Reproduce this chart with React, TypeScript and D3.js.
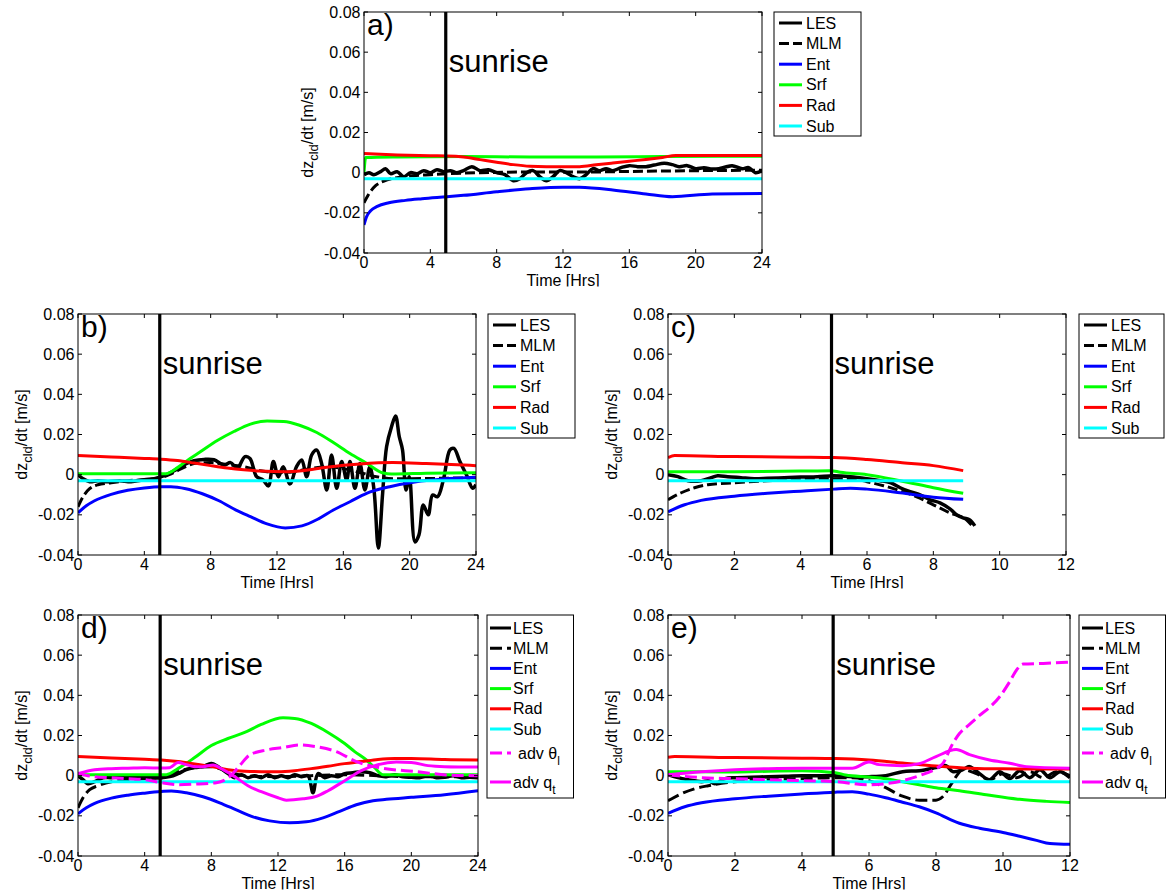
import React from 'react';
import * as d3 from 'd3';

type Pt = [number, number];

// ---------- shared axis settings ----------
const Y_MIN = -0.04;
const Y_MAX = 0.08;
const yTickValues = [-0.04, -0.02, 0, 0.02, 0.04, 0.06, 0.08];
const xTicksDay = [0, 4, 8, 12, 16, 20, 24];
const xTicksHalf = [0, 2, 4, 6, 8, 10, 12];
const SUNRISE_HR = 4.93;

// ---------- a) ----------
const aLES: Pt[] = [[0,-0.001],[0.3,0.0],[0.6,-0.001],[1.0,0.0005],[1.3,0.002],[1.6,-0.0005],[2.0,0.0005],[2.4,-0.002],[2.8,0.0],[3.2,-0.0005],[3.6,0.001],[4.0,0.0],[4.4,0.0015],[4.8,0.0005],[5.2,0.001],[5.6,0.0],[6.0,0.001],[6.5,0.003],[7.0,0.001],[7.5,0.0015],[8.0,0.0],[8.5,-0.001],[9.0,-0.004],[9.4,-0.003],[9.8,0.0],[10.2,0.001],[10.6,-0.002],[11.0,-0.004],[11.4,-0.002],[11.8,0.001],[12.2,0.0],[12.6,-0.002],[13.0,-0.003],[13.4,-0.001],[13.8,0.002],[14.2,0.001],[14.6,0.002],[15.0,0.001],[15.5,0.0025],[16.0,0.0035],[16.5,0.003],[17.0,0.003],[17.5,0.0038],[18.1,0.0047],[18.6,0.004],[19.0,0.003],[19.5,0.0035],[20.0,0.002],[20.5,0.0025],[21.0,0.0018],[21.4,0.002],[21.8,0.0028],[22.2,0.0035],[22.8,0.002],[23.2,0.0025],[23.6,0.0],[24.0,0.001]];
const aMLM: Pt[] = [[0,-0.015],[0.3,-0.0105],[0.7,-0.0065],[1.2,-0.0042],[2,-0.0025],[3,-0.0015],[4,-0.001],[5,-0.0005],[7,0.0],[10,0.0003],[13,0.0003],[16,0.0006],[20,0.001],[24,0.0012]];
const aENT: Pt[] = [[0,-0.026],[0.15,-0.022],[0.4,-0.019],[0.8,-0.0168],[1.5,-0.015],[2.5,-0.0138],[3.5,-0.013],[5,-0.012],[6,-0.0113],[8,-0.0095],[10,-0.008],[12,-0.0072],[13,-0.0073],[15,-0.0086],[17,-0.0106],[18.6,-0.012],[21,-0.0106],[24,-0.0104]];
const aSRF: Pt[] = [[0,0.0],[0.1,0.0075],[2,0.0078],[6,0.008],[10,0.0078],[14,0.0078],[18,0.008],[24,0.0082]];
const aRAD: Pt[] = [[0,0.0095],[2,0.0088],[4,0.0084],[5,0.0083],[6,0.0078],[7,0.0065],[8,0.0052],[9,0.004],[10,0.0032],[11,0.003],[12,0.003],[13,0.003],[14,0.0039],[15,0.0048],[16,0.0057],[17,0.0066],[18,0.0076],[18.8,0.0085],[24,0.0085]];
const aSUB: Pt[] = [[0,-0.003],[24,-0.003]];

// ---------- b) ----------
const bLES: Pt[] = [[0,0.0],[0.3,-0.002],[0.7,-0.0035],[1.2,-0.003],[1.8,-0.0035],[2.5,-0.003],[3.2,-0.0035],[4.0,-0.0025],[4.6,-0.002],[5.2,-0.0005],[5.8,0.002],[6.4,0.005],[7.0,0.007],[7.6,0.0076],[8.2,0.0074],[8.8,0.0048],[9.2,0.006],[9.6,0.0032],[10.07,0.009],[10.37,0.0081],[10.77,-0.001],[11.17,-0.0027],[11.48,-0.0056],[11.78,0.0065],[12.08,-0.001],[12.38,0.004],[12.78,-0.0046],[13.18,0.004],[13.49,0.0073],[13.79,-0.001],[14.09,0.0098],[14.39,0.0123],[14.69,0.0056],[15.0,-0.0076],[15.29,0.0098],[15.6,-0.0068],[15.9,0.0065],[16.2,-0.0027],[16.4,0.0065],[16.7,-0.0068],[17.0,0.0056],[17.3,-0.0076],[17.6,0.004],[17.85,-0.0076],[18.11,-0.0365],[18.37,-0.0093],[18.61,0.014],[18.91,0.024],[19.15,0.0292],[19.37,0.019],[19.57,0.0123],[19.78,-0.0076],[19.98,-0.001],[20.32,-0.0335],[20.56,-0.030],[20.82,-0.0151],[21.12,-0.020],[21.38,-0.0101],[21.68,-0.011],[22.03,-0.0027],[22.43,0.0123],[22.67,0.0131],[23.03,0.0065],[23.43,-0.0002],[23.8,-0.0068],[24.0,-0.005]];
const bMLM: Pt[] = [[0,-0.016],[0.3,-0.011],[0.7,-0.007],[1.2,-0.005],[2,-0.004],[3,-0.003],[4,-0.0025],[5,-0.0015],[5.5,0.0],[6,0.002],[6.5,0.004],[7,0.0055],[8,0.006],[9,0.005],[10,0.004],[11,0.002],[12,0.001],[13,0.0015],[14,0.003],[15,0.004],[16,0.003],[17,0.001],[18,-0.001],[19,-0.002],[20,-0.002],[22,-0.0018],[24,-0.0015]];
const bENT: Pt[] = [[0,-0.019],[0.5,-0.0155],[1,-0.013],[2,-0.0098],[3,-0.0078],[4,-0.0066],[5,-0.006],[5.6,-0.006],[6.5,-0.007],[7.5,-0.0095],[8.5,-0.013],[9.5,-0.0175],[10.4,-0.0209],[11.4,-0.0245],[12.5,-0.0265],[13.5,-0.0255],[14.5,-0.022],[15.4,-0.0176],[16.4,-0.0135],[17.4,-0.0093],[18.8,-0.006],[20.4,-0.0035],[22,-0.0022],[24,-0.0013]];
const bSRF: Pt[] = [[0,0.0005],[5.3,0.0005],[6,0.0035],[6.5,0.0065],[7.4,0.0115],[8.4,0.017],[9.4,0.0215],[10.4,0.0252],[11.4,0.0267],[12.4,0.0265],[13.4,0.0245],[14.4,0.021],[15.4,0.016],[16.4,0.0105],[17.4,0.0057],[18.4,0.0008],[18.9,0.0003],[21,0.0007],[24,0.001]];
const bRAD: Pt[] = [[0,0.0095],[2,0.0088],[4,0.0081],[5,0.0077],[6,0.007],[7,0.0058],[8,0.0045],[9,0.0033],[10,0.0024],[11,0.0018],[12.5,0.0015],[13.5,0.002],[15,0.0037],[17,0.0053],[19,0.006],[21,0.0055],[24,0.0045]];
const bSUB: Pt[] = [[0,-0.003],[24,-0.003]];

// ---------- c) ----------
const cLES: Pt[] = [[0,0.0],[0.3,-0.001],[0.6,-0.003],[1.0,-0.003],[1.3,-0.0015],[1.5,-0.0005],[1.8,-0.001],[2.2,-0.0015],[2.6,-0.002],[3.0,-0.0018],[3.5,-0.0015],[4.0,-0.0012],[4.5,-0.001],[5.0,-0.0005],[5.5,-0.001],[6.0,-0.002],[6.4,-0.003],[6.7,-0.004],[7.0,-0.0065],[7.3,-0.0085],[7.6,-0.01],[7.9,-0.0125],[8.2,-0.014],[8.5,-0.017],[8.7,-0.02],[8.9,-0.0215],[9.1,-0.0225],[9.25,-0.0255]];
const cMLM: Pt[] = [[0,-0.0125],[0.4,-0.009],[0.8,-0.0065],[1.2,-0.005],[2,-0.004],[3,-0.003],[4,-0.0025],[5,-0.002],[5.5,-0.002],[6,-0.0035],[6.5,-0.0055],[7,-0.008],[7.5,-0.011],[8,-0.015],[8.5,-0.019],[9,-0.0225],[9.15,-0.025]];
const cENT: Pt[] = [[0,-0.0185],[0.5,-0.015],[1,-0.0128],[2,-0.0107],[3,-0.0093],[4,-0.0082],[5,-0.0072],[5.5,-0.0068],[6,-0.0072],[7,-0.009],[8,-0.0112],[8.9,-0.0123]];
const cSRF: Pt[] = [[0,0.0015],[2,0.0015],[4,0.0018],[4.9,0.002],[5.2,0.0012],[6,0.0],[7,-0.003],[8,-0.0065],[8.9,-0.0093]];
const cRAD: Pt[] = [[0,0.0085],[0.2,0.0095],[2,0.009],[4,0.0087],[5,0.0085],[6,0.0075],[7,0.006],[8,0.0045],[8.9,0.002]];
const cSUB: Pt[] = [[0,-0.003],[8.9,-0.003]];

// ---------- d) ----------
const dLES: Pt[] = [[0,0.0],[0.3,-0.002],[0.6,-0.004],[1.0,-0.003],[1.5,-0.001],[2,-0.001],[2.5,-0.0005],[3,-0.001],[3.5,-0.0005],[4,-0.001],[4.5,-0.0005],[5,-0.001],[5.5,-0.0005],[6,0.001],[6.5,0.003],[7,0.004],[7.5,0.0045],[8,0.006],[8.5,0.004],[9,0.001],[9.4,-0.001],[9.8,0.0005],[10.2,-0.001],[10.6,0.0],[11,-0.001],[11.4,0.0005],[11.8,-0.001],[12.2,0.0],[12.6,-0.001],[13,0.0005],[13.4,-0.0005],[13.8,0.0],[14.1,-0.0085],[14.4,0.001],[14.8,-0.001],[15.2,0.0],[15.6,-0.0005],[16,0.001],[16.5,0.0015],[17,0.002],[17.5,0.0015],[18,0.0],[18.5,-0.0005],[19,0.0005],[19.5,-0.0005],[20,-0.0008],[20.5,-0.001],[21,0.0],[21.5,-0.001],[22,-0.0008],[22.5,0.0],[23,-0.001],[23.5,-0.0008],[24,-0.001]];
const dMLM: Pt[] = [[0,-0.016],[0.3,-0.011],[0.7,-0.007],[1.2,-0.005],[2,-0.003],[3,-0.002],[4,-0.0015],[5,-0.001],[5.5,0.0],[6,0.002],[7,0.004],[8,0.0045],[9,0.002],[10,0.0],[12,-0.0005],[14,0.0],[16,0.0005],[18,0.0],[20,-0.0005],[22,-0.0005],[24,-0.0005]];
const dENT: Pt[] = [[0,-0.019],[0.5,-0.016],[1,-0.0138],[2,-0.0112],[3,-0.0097],[4,-0.0087],[5,-0.0079],[5.6,-0.0076],[6.5,-0.0085],[7.5,-0.0105],[8.5,-0.0135],[9.5,-0.017],[10.5,-0.0205],[11.5,-0.0225],[12.7,-0.0235],[13.7,-0.023],[14.7,-0.021],[15.7,-0.0178],[16.7,-0.0145],[17.7,-0.0125],[18.5,-0.0118],[20,-0.0108],[22,-0.0095],[24,-0.0075]];
const dSRF: Pt[] = [[0,0.0005],[5.3,0.0005],[6,0.0035],[7,0.009],[8,0.015],[9,0.0185],[10,0.0215],[11,0.0255],[12.3,0.0288],[13,0.0285],[14,0.026],[15,0.0215],[16,0.016],[16.6,0.012],[17.3,0.0078],[17.8,0.004],[18.3,0.0005],[20,0.0005],[24,0.0005]];
const dRAD: Pt[] = [[0,0.0095],[2,0.0088],[4,0.0082],[5,0.0078],[6,0.007],[7,0.0058],[8,0.0045],[9,0.003],[10,0.0022],[11,0.002],[12,0.002],[13,0.0025],[14,0.0035],[15,0.0047],[16,0.006],[17,0.007],[18,0.0081],[19,0.0086],[20,0.0086],[22,0.008],[24,0.0078]];
const dSUB: Pt[] = [[0,-0.003],[24,-0.003]];
const dADVT: Pt[] = [[0,0.001],[1,-0.0005],[2,-0.001],[3,-0.0015],[4,-0.002],[5,-0.0035],[6,-0.0045],[7,-0.0042],[8.3,-0.0035],[9.1,-0.0005],[9.7,0.005],[10.3,0.0103],[11.3,0.0128],[12.3,0.014],[13.3,0.0153],[14.3,0.0144],[15.5,0.012],[16.7,0.007],[17.5,0.005],[18.3,0.0037],[20.3,0.002],[22.3,0.0003],[24,0.0]];
const dADVQ: Pt[] = [[0,0.001],[1,0.003],[2,0.0035],[3,0.0037],[4,0.0039],[5,0.0038],[5.5,0.004],[6,0.0065],[6.5,0.0055],[7,0.0045],[7.5,0.0045],[8.1,0.0053],[8.7,0.003],[9.5,-0.001],[10.2,-0.005],[11,-0.008],[12,-0.011],[12.5,-0.0122],[13.5,-0.0115],[14.3,-0.0103],[15,-0.0075],[16,-0.0025],[17,0.0025],[18,0.0055],[19.1,0.0068],[20,0.0066],[21,0.005],[22,0.0045],[24,0.0043]];

// ---------- e) ----------
const eLES: Pt[] = [[0,0.0005],[0.3,-0.001],[0.6,-0.002],[1.0,-0.003],[1.2,-0.0025],[1.4,-0.004],[1.7,-0.0015],[2,-0.001],[2.5,-0.0008],[3,-0.0005],[3.5,-0.0003],[4,0.0],[4.5,0.0],[5,0.0],[5.5,-0.0005],[6,-0.0005],[6.5,0.0],[7,0.002],[7.5,0.0025],[8,0.004],[8.3,0.005],[8.5,0.002],[8.8,0.003],[9.0,0.0045],[9.3,0.001],[9.6,-0.002],[9.9,0.002],[10.2,-0.0015],[10.5,0.0025],[10.8,-0.001],[11.1,0.003],[11.4,-0.001],[11.7,0.002],[12,-0.001]];
const eMLM: Pt[] = [[0,-0.0125],[0.4,-0.009],[0.8,-0.0065],[1.2,-0.005],[2,-0.003],[3,-0.002],[4,-0.0015],[5,-0.001],[5.5,-0.001],[6,-0.0025],[6.5,-0.006],[7,-0.0102],[7.5,-0.0122],[8,-0.0122],[8.2,-0.0105],[8.5,-0.003],[8.8,0.003],[9.2,0.001],[9.6,-0.002],[10,0.001],[10.4,-0.001],[10.8,0.002],[11.2,-0.001],[11.6,0.002],[12,0.0]];
const eENT: Pt[] = [[0,-0.0188],[0.5,-0.0155],[1,-0.0135],[2,-0.0115],[3,-0.0102],[4,-0.0091],[5,-0.0082],[5.5,-0.008],[6,-0.0092],[6.5,-0.011],[7,-0.0132],[7.5,-0.0155],[8,-0.0185],[8.7,-0.0237],[9.3,-0.0262],[10,-0.0283],[10.5,-0.0302],[11,-0.0322],[11.4,-0.0338],[12,-0.0342]];
const eSRF: Pt[] = [[0,0.002],[1,0.0019],[2,0.0018],[3,0.0022],[4,0.0024],[5,0.0015],[5.3,0.0003],[6,-0.0007],[6.5,-0.0015],[7,-0.003],[7.5,-0.0045],[8,-0.006],[8.7,-0.0075],[9.5,-0.0095],[10.5,-0.0118],[11.3,-0.0128],[12,-0.0134]];
const eRAD: Pt[] = [[0,0.0092],[0.2,0.0095],[2,0.009],[4,0.0087],[5,0.0085],[6,0.0078],[7,0.0063],[8,0.0048],[9,0.0037],[10,0.0034],[12,0.0033]];
const eSUB: Pt[] = [[0,-0.003],[12,-0.003]];
const eADVT: Pt[] = [[0,0.0005],[1,-0.001],[2,-0.0015],[3,-0.002],[4,-0.0025],[5,-0.003],[6,-0.0046],[6.5,-0.004],[7,-0.0025],[7.5,0.0],[8,0.0035],[8.2,0.006],[8.5,0.016],[8.7,0.021],[9.0,0.0255],[9.3,0.03],[9.6,0.034],[9.9,0.0393],[10.2,0.0468],[10.4,0.0525],[10.6,0.0556],[11.2,0.0559],[12,0.0565]];
const eADVQ: Pt[] = [[0,0.0005],[1,0.002],[2,0.003],[3,0.0035],[4,0.0037],[5,0.0037],[5.5,0.0037],[6,0.0068],[6.3,0.0055],[7,0.005],[7.5,0.006],[8,0.0095],[8.6,0.013],[9.0,0.0105],[9.6,0.0078],[10.2,0.0062],[10.7,0.0045],[12,0.0037]];

// ---------- styling ----------
const FONT = '"Liberation Sans", Arial, Helvetica, sans-serif';
const COLORS: Record<string, string> = {
  LES: '#000000', MLM: '#000000', Ent: '#0000ff', Srf: '#00ff00',
  Rad: '#ff0000', Sub: '#00ffff', advT: '#ff00ff', advQ: '#ff00ff',
};

type Series = {
  key: string;
  data: Pt[];
  dashed?: boolean;
  wiggly?: boolean;
};

type PanelProps = {
  id: string;
  tag: string;
  left: number;
  top: number;
  width: number;
  height: number;
  xMax: number;
  xTicks: number[];
  series: Series[];
  legendLeft: number;
  legendWidth: number;
  longLegend: boolean;
};

const W = 1168;
const H = 894;

function fmtY(v: number) {
  return Math.abs(v) < 1e-9 ? '0' : v.toFixed(2);
}

function LegendLabel({ k, x, y }: { k: string; x: number; y: number }) {
  if (k === 'advT') {
    return (
      <text x={x + 5} y={y} dy="0.35em" fontSize={16}>
        adv θ<tspan fontSize={12} dy={6}>l</tspan>
      </text>
    );
  }
  if (k === 'advQ') {
    return (
      <text x={x} y={y} dy="0.35em" fontSize={16}>
        adv q<tspan fontSize={12} dy={6}>t</tspan>
      </text>
    );
  }
  return (
    <text x={x} y={y} dy="0.35em" fontSize={16}>
      {k}
    </text>
  );
}

function Panel(p: PanelProps) {
  const x = d3.scaleLinear().domain([0, p.xMax]).range([p.left, p.left + p.width]);
  const y = d3.scaleLinear().domain([Y_MIN, Y_MAX]).range([p.top + p.height, p.top]);
  const bottom = p.top + p.height;
  const right = p.left + p.width;
  const clipId = `plot-${p.id}`;
  const labClipId = `xlab-${p.id}`;
  const dash = p.longLegend ? '12,5' : '10,4';
  const tickLen = 4;

  const lineFor = (s: Series) =>
    d3
      .line<Pt>()
      .x((d) => x(d[0]))
      .y((d) => y(d[1]))
      .curve(s.wiggly ? d3.curveCatmullRom.alpha(0.5) : d3.curveMonotoneX)(s.data) || '';

  const rowYs = p.longLegend
    ? [13, 33.2, 53.4, 73.6, 93.8, 114, 138, 167]
    : [11, 31.6, 52.2, 72.8, 93.4, 114];
  const legendH = p.longLegend ? 183 : 124;
  const sampleX0 = p.longLegend ? 3 : 5;
  const sampleX1 = p.longLegend ? 24 : 28;
  const textX = p.longLegend ? 26 : 32;
  const sx = x(SUNRISE_HR);

  return (
    <g fontFamily={FONT}>
      <defs>
        <clipPath id={clipId}>
          <rect x={p.left} y={p.top} width={p.width} height={p.height} />
        </clipPath>
        <clipPath id={labClipId}>
          <rect x={p.left - 60} y={bottom + 18} width={p.width + 120} height={15.5} />
        </clipPath>
      </defs>

      {/* curves */}
      <g clipPath={`url(#${clipId})`} fill="none" strokeLinejoin="round">
        {p.series.map((s) => (
          <path
            key={s.key}
            d={lineFor(s)}
            stroke={COLORS[s.key]}
            strokeWidth={s.key === 'LES' ? 3.5 : 3}
            strokeDasharray={s.dashed ? dash : undefined}
          />
        ))}
        <line x1={sx} x2={sx} y1={p.top} y2={bottom} stroke="#000" strokeWidth={3.2} />
      </g>

      {/* axes box */}
      <rect x={p.left} y={p.top} width={p.width} height={p.height} fill="none" stroke="#000" strokeWidth={1} />

      {/* x ticks */}
      {p.xTicks.map((t) => (
        <g key={`xt${t}`}>
          <line x1={x(t)} x2={x(t)} y1={bottom} y2={bottom - tickLen} stroke="#000" />
          <line x1={x(t)} x2={x(t)} y1={p.top} y2={p.top + tickLen} stroke="#000" />
          <text x={x(t)} y={bottom + 15} textAnchor="middle" fontSize={16}>
            {t}
          </text>
        </g>
      ))}

      {/* y ticks */}
      {yTickValues.map((v) => (
        <g key={`yt${v}`}>
          <line x1={p.left} x2={p.left + tickLen} y1={y(v)} y2={y(v)} stroke="#000" />
          <line x1={right} x2={right - tickLen} y1={y(v)} y2={y(v)} stroke="#000" />
          <text x={p.left - 3.5} y={y(v)} dy="0.35em" textAnchor="end" fontSize={16}>
            {fmtY(v)}
          </text>
        </g>
      ))}

      {/* axis titles */}
      <g clipPath={`url(#${labClipId})`}>
        <text x={p.left + p.width / 2} y={bottom + 32.5} textAnchor="middle" fontSize={16}>
          Time [Hrs]
        </text>
      </g>
      <text
        transform={`translate(${p.left - 51},${p.top + p.height / 2}) rotate(-90)`}
        textAnchor="middle"
        fontSize={16}
      >
        dz<tspan fontSize={13} dy={5}>cld</tspan>
        <tspan dy={-5}>/dt [m/s]</tspan>
      </text>

      {/* annotations */}
      <text x={p.left + 3} y={p.top + 23} fontSize={30}>
        {p.tag}
      </text>
      <text x={sx + 3} y={p.top + 60} fontSize={31}>
        sunrise
      </text>

      {/* legend */}
      <g>
        <rect x={p.legendLeft} y={p.top} width={p.legendWidth} height={legendH} fill="#fff" stroke="#000" strokeWidth={1} />
        {p.series.map((s, i) => {
          const ry = p.top + rowYs[i];
          return (
            <g key={`lg${s.key}`}>
              <line
                x1={p.legendLeft + sampleX0}
                x2={p.legendLeft + sampleX1}
                y1={ry}
                y2={ry}
                stroke={COLORS[s.key]}
                strokeWidth={3}
                strokeDasharray={s.dashed ? dash : undefined}
              />
              <LegendLabel k={s.key} x={p.legendLeft + textX} y={ry} />
            </g>
          );
        })}
      </g>
    </g>
  );
}

function baseSeries(les: Pt[], mlm: Pt[], ent: Pt[], srf: Pt[], rad: Pt[], sub: Pt[]): Series[] {
  return [
    { key: 'LES', data: les, wiggly: true },
    { key: 'MLM', data: mlm, dashed: true },
    { key: 'Ent', data: ent },
    { key: 'Srf', data: srf },
    { key: 'Rad', data: rad },
    { key: 'Sub', data: sub },
  ];
}

export default function App() {
  const panels: PanelProps[] = [
    {
      id: 'a', tag: 'a)', left: 364, top: 12, width: 398, height: 241, xMax: 24, xTicks: xTicksDay,
      series: baseSeries(aLES, aMLM, aENT, aSRF, aRAD, aSUB),
      legendLeft: 774, legendWidth: 87, longLegend: false,
    },
    {
      id: 'b', tag: 'b)', left: 78, top: 314, width: 398, height: 241, xMax: 24, xTicks: xTicksDay,
      series: baseSeries(bLES, bMLM, bENT, bSRF, bRAD, bSUB),
      legendLeft: 488, legendWidth: 87, longLegend: false,
    },
    {
      id: 'c', tag: 'c)', left: 668, top: 314, width: 398, height: 241, xMax: 12, xTicks: xTicksHalf,
      series: baseSeries(cLES, cMLM, cENT, cSRF, cRAD, cSUB),
      legendLeft: 1079, legendWidth: 85, longLegend: false,
    },
    {
      id: 'd', tag: 'd)', left: 78, top: 615, width: 400, height: 241, xMax: 24, xTicks: xTicksDay,
      series: [
        ...baseSeries(dLES, dMLM, dENT, dSRF, dRAD, dSUB),
        { key: 'advT', data: dADVT, dashed: true },
        { key: 'advQ', data: dADVQ },
      ],
      legendLeft: 487, legendWidth: 86.5, longLegend: true,
    },
    {
      id: 'e', tag: 'e)', left: 668, top: 615, width: 402, height: 241, xMax: 12, xTicks: xTicksHalf,
      series: [
        ...baseSeries(eLES, eMLM, eENT, eSRF, eRAD, eSUB),
        { key: 'advT', data: eADVT, dashed: true },
        { key: 'advQ', data: eADVQ },
      ],
      legendLeft: 1079, legendWidth: 86.5, longLegend: true,
    },
  ];

  return (
    <svg
      width={W}
      height={H}
      viewBox={`0 0 ${W} ${H}`}
      style={{ position: 'absolute', left: 0, top: 0, background: '#fff' }}
    >
      <rect x={0} y={0} width={W} height={H} fill="#fff" />
      {panels.map((p) => (
        <Panel key={p.id} {...p} />
      ))}
    </svg>
  );
}
